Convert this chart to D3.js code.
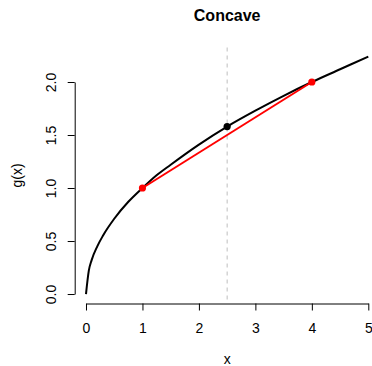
<!DOCTYPE html>
<html>
<head>
<meta charset="utf-8">
<script src="https://cdn.jsdelivr.net/npm/d3@7"></script>
<style>
  body { margin: 0; background: #fff; }
  svg { display: block; font-family: "Liberation Sans", Arial, sans-serif; }
</style>
</head>
<body>
<div id="chart"></div>
<script>
// curve g(x)
const curveX = [0, 0.05, 0.1, 0.2, 0.3, 0.5, 0.75, 1, 1.25, 1.5, 2, 2.5, 3, 3.5, 4, 4.5, 5];
const curveY = [0, 0.22, 0.32, 0.45, 0.55, 0.71, 0.87, 1.00, 1.12, 1.22, 1.41, 1.58, 1.73, 1.87, 2.00, 2.12, 2.24];

// chord end points (red) and the midpoint on the curve (black)
const chordX = [1, 4];
const chordY = [1, 2];
const midX = [2.5];
const midY = [1.58];

const xTicks = [0, 1, 2, 3, 4, 5];
const yTicks = [0, 0.5, 1, 1.5, 2];

const W = 372, H = 366;
// plot region (R style, 4% padding around the data range)
let plot = { left: 74.7, right: 379.6, top: 47.5, bottom: 303.5 };

const x = d3.scaleLinear().domain([-0.2, 5.2]).range([plot.left, plot.right]);
const y = d3.scaleLinear().domain([-0.0894, 2.3255]).range([plot.bottom, plot.top]);

const svg = d3.select("#chart").append("svg")
    .attr("width", W)
    .attr("height", H);

// title
svg.append("text")
    .attr("x", (plot.left + plot.right) / 2)
    .attr("y", 20.5)
    .attr("text-anchor", "middle")
    .attr("font-weight", "bold")
    .attr("font-size", 16)
    .text("Concave");

// x axis, line only between first and last tick
const xa = svg.append("g")
    .attr("transform", `translate(0,${plot.bottom})`)
    .call(d3.axisBottom(x.copy().domain([0, 5]).range([x(0), x(5)]))
        .tickValues(xTicks).tickSize(7).tickSizeOuter(0).tickFormat(d3.format("d")));
xa.select(".domain").attr("stroke", "#000");
xa.selectAll(".tick line").attr("stroke", "#000");
xa.selectAll(".tick text")
    .attr("y", 29).attr("dy", 0)
    .attr("font-size", 14).attr("fill", "#000")
    .attr("font-family", "Liberation Sans, Arial, sans-serif");

// y axis, labels turned like R's default
const ya = svg.append("g")
    .attr("transform", `translate(${plot.left},0)`)
    .call(d3.axisLeft(y.copy().domain([0, 2]).range([y(0), y(2)]))
        .tickValues(yTicks).tickSize(7).tickSizeOuter(0).tickFormat(d3.format(".1f")));
ya.select(".domain").attr("stroke", "#000");
ya.selectAll(".tick line").attr("stroke", "#000");
ya.selectAll(".tick text")
    .attr("x", 0).attr("dy", 0)
    .attr("transform", "translate(-19,0) rotate(-90)")
    .attr("text-anchor", "middle")
    .attr("font-size", 14).attr("fill", "#000")
    .attr("font-family", "Liberation Sans, Arial, sans-serif");

// axis titles
svg.append("text")
    .attr("x", (plot.left + plot.right) / 2)
    .attr("y", 363.5)
    .attr("text-anchor", "middle")
    .attr("font-size", 14)
    .text("x");
svg.append("text")
    .attr("transform", `translate(21.5,${(plot.top + plot.bottom) / 2}) rotate(-90)`)
    .attr("text-anchor", "middle")
    .attr("font-size", 14)
    .text("g(x)");

// vertical dashed line at the midpoint
svg.append("line")
    .attr("x1", x(midX[0])).attr("x2", x(midX[0]))
    .attr("y1", plot.top).attr("y2", plot.bottom)
    .attr("stroke", "#bebebe")
    .attr("stroke-width", 1)
    .attr("stroke-dasharray", "4,4");

// the curve
const curvePts = curveX.map((d, i) => [d, curveY[i]]);
svg.append("path")
    .datum(curvePts)
    .attr("fill", "none")
    .attr("stroke", "#000")
    .attr("stroke-width", 2)
    .attr("d", d3.line()
        .x(d => x(d[0]))
        .y(d => y(d[1]))
        .curve(d3.curveMonotoneX));

// chord
const chordPts = chordX.map((d, i) => [d, chordY[i]]);
svg.append("path")
    .datum(chordPts)
    .attr("fill", "none")
    .attr("stroke", "#ff0000")
    .attr("stroke-width", 2)
    .attr("d", d3.line().x(d => x(d[0])).y(d => y(d[1])));

svg.selectAll(".chordpt")
    .data(chordPts)
    .enter()
    .append("circle")
    .attr("class", "chordpt")
    .attr("cx", d => x(d[0]))
    .attr("cy", d => y(d[1]))
    .attr("r", 3.6)
    .attr("fill", "#ff0000");

svg.selectAll(".midpt")
    .data(midX.map((d, i) => [d, midY[i]]))
    .enter()
    .append("circle")
    .attr("class", "midpt")
    .attr("cx", d => x(d[0]))
    .attr("cy", d => y(d[1]))
    .attr("r", 3.6)
    .attr("fill", "#000");
</script>
</body>
</html>
